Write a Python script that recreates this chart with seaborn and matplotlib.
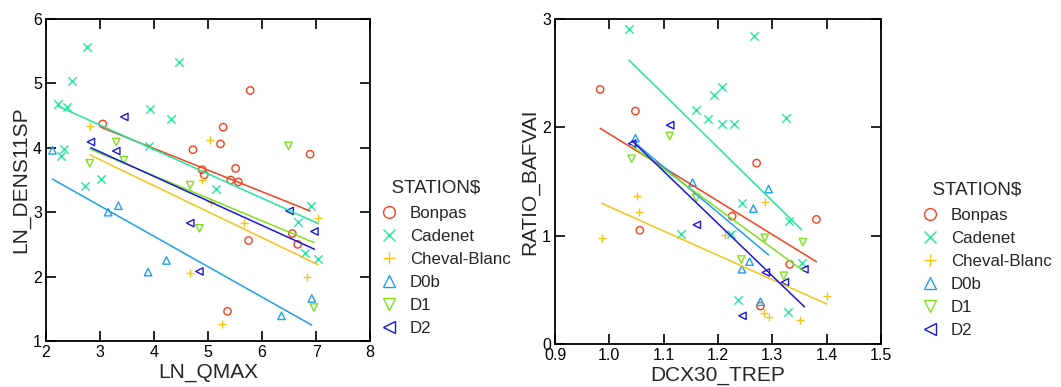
import numpy as np
import pandas as pd
import matplotlib
matplotlib.use("Agg")
import matplotlib.pyplot as plt
from matplotlib.lines import Line2D
import seaborn as sns

stations = ["Bonpas", "Cadenet", "Cheval-Blanc", "D0b", "D1", "D2"]
colors = ["#F5401E", "#22E6A0", "#F5C418", "#1EA0F0", "#80E020", "#1818E0"]
markers = ["o", "x", "+", "^", "v", "<"]

# Left panel: LN_QMAX vs LN_DENS11SP
bonpas_qmax = [3.05, 5.78, 5.28, 5.23, 4.72, 6.89, 5.51, 4.89, 4.93, 5.42, 5.56, 6.56, 6.66, 5.75, 5.36]
bonpas_dens = [4.37, 4.89, 4.32, 4.06, 3.97, 3.90, 3.68, 3.66, 3.58, 3.50, 3.47, 2.67, 2.50, 2.56, 1.46]
cadenet_qmax = [2.75, 4.46, 2.48, 2.23, 2.38, 3.93, 4.31, 3.91, 2.33, 2.27, 3.02, 2.72, 5.14, 6.91, 6.67, 6.79, 7.04]
cadenet_dens = [5.57, 5.33, 5.03, 4.68, 4.63, 4.61, 4.45, 4.03, 3.98, 3.87, 3.52, 3.41, 3.36, 3.10, 2.84, 2.36, 2.28]
cheval_qmax = [2.81, 5.04, 4.88, 5.05, 7.04, 5.67, 4.67, 6.83, 5.25]
cheval_dens = [4.34, 4.12, 3.50, 3.16, 2.91, 2.83, 2.05, 1.99, 1.26]
d0b_qmax = [2.12, 3.34, 3.15, 4.23, 3.89, 6.92, 6.36]
d0b_dens = [3.96, 3.10, 3.00, 2.25, 2.07, 1.66, 1.39]
d1_qmax = [3.30, 6.49, 2.81, 3.44, 4.67, 4.84, 6.96]
d1_dens = [4.09, 4.03, 3.76, 3.81, 3.42, 2.75, 1.52]
d2_qmax = [3.45, 2.83, 3.30, 6.51, 6.97, 4.67, 4.84]
d2_dens = [4.48, 4.09, 3.95, 3.02, 2.70, 2.83, 2.08]

# Right panel: DCX30_TREP vs RATIO_BAFVAI
bonpas_trep = [0.983, 1.048, 1.271, 1.381, 1.226, 1.056, 1.332, 1.278]
bonpas_ratio = [2.35, 2.15, 1.67, 1.15, 1.18, 1.05, 0.735, 0.35]
cadenet_trep = [1.036, 1.266, 1.208, 1.193, 1.160, 1.325, 1.182, 1.208, 1.230, 1.244, 1.131, 1.224, 1.330, 1.354, 1.236, 1.329]
cadenet_ratio = [2.91, 2.84, 2.37, 2.30, 2.16, 2.09, 2.08, 2.03, 2.03, 1.30, 1.02, 1.02, 1.14, 0.75, 0.41, 0.30]
cheval_trep = [1.051, 1.055, 0.986, 1.213, 1.287, 1.400, 1.285, 1.294, 1.351]
cheval_ratio = [1.37, 1.22, 0.98, 1.01, 1.31, 0.44, 0.29, 0.25, 0.22]
d0b_trep = [1.048, 1.153, 1.293, 1.265, 1.258, 1.244, 1.278]
d0b_ratio = [1.90, 1.49, 1.43, 1.25, 0.76, 0.69, 0.39]
d1_trep = [1.111, 1.041, 1.160, 1.286, 1.356, 1.243, 1.321]
d1_ratio = [1.92, 1.71, 1.35, 0.98, 0.94, 0.78, 0.63]
d2_trep = [1.112, 1.042, 1.161, 1.288, 1.359, 1.323, 1.245]
d2_ratio = [2.02, 1.85, 1.10, 0.66, 0.69, 0.57, 0.26]

left_x = [bonpas_qmax, cadenet_qmax, cheval_qmax, d0b_qmax, d1_qmax, d2_qmax]
left_y = [bonpas_dens, cadenet_dens, cheval_dens, d0b_dens, d1_dens, d2_dens]
right_x = [bonpas_trep, cadenet_trep, cheval_trep, d0b_trep, d1_trep, d2_trep]
right_y = [bonpas_ratio, cadenet_ratio, cheval_ratio, d0b_ratio, d1_ratio, d2_ratio]


def make_df(xs, ys, xname, yname):
    rows = []
    for st, xv, yv in zip(stations, xs, ys):
        for a, b in zip(xv, yv):
            rows.append({"STATION$": st, xname: a, yname: b})
    return pd.DataFrame(rows)


df_left = make_df(left_x, left_y, "LN_QMAX", "LN_DENS11SP")
df_right = make_df(right_x, right_y, "DCX30_TREP", "RATIO_BAFVAI")

sns.set_theme(style="ticks")
plt.rcParams["font.family"] = ["Liberation Sans", "DejaVu Sans"]

fig = plt.figure(figsize=(10.61, 3.87), dpi=100)
ax1 = fig.add_axes([0.0434, 0.1189, 0.3054, 0.832])
ax2 = fig.add_axes([0.5231, 0.1111, 0.3073, 0.8398])


def draw(ax, df, xname, yname):
    for st, c, m in zip(stations, colors, markers):
        sub = df[df["STATION$"] == st]
        if m in ("x", "+"):
            sns.scatterplot(data=sub, x=xname, y=yname, ax=ax, marker=m,
                            color=c, s=36, linewidth=1.0, legend=False)
        else:
            sns.scatterplot(data=sub, x=xname, y=yname, ax=ax, marker=m,
                            facecolor="none", edgecolor=c, s=28, linewidth=1.0,
                            legend=False)
        sns.regplot(data=sub, x=xname, y=yname, ax=ax, scatter=False, ci=None,
                    color=c, line_kws=dict(lw=1.1))
    ax.set_xlabel(xname, fontsize=15, labelpad=2)
    ax.set_ylabel(yname, fontsize=15, labelpad=2)
    ax.tick_params(direction="in", length=7, width=1.2, top=True, right=True,
                   labelsize=11.5, pad=3, colors="black")
    for sp in ax.spines.values():
        sp.set_linewidth(1.3)
        sp.set_color("black")


draw(ax1, df_left, "LN_QMAX", "LN_DENS11SP")
ax1.set_xlim(2, 8)
ax1.set_ylim(1, 6)
ax1.set_xticks([2, 3, 4, 5, 6, 7, 8])
ax1.set_yticks([1, 2, 3, 4, 5, 6])

draw(ax2, df_right, "DCX30_TREP", "RATIO_BAFVAI")
ax2.set_xlim(0.9, 1.5)
ax2.set_ylim(0, 3)
ax2.set_xticks([0.9, 1.0, 1.1, 1.2, 1.3, 1.4, 1.5])
ax2.set_xticklabels([f"{v:.1f}" for v in [0.9, 1.0, 1.1, 1.2, 1.3, 1.4, 1.5]])
ax2.set_yticks([0, 1, 2, 3])

handles = []
for st, c, m in zip(stations, colors, markers):
    handles.append(Line2D([], [], linestyle="none", marker=m, markersize=8.5,
                          markerfacecolor="none", markeredgecolor=c,
                          markeredgewidth=1.0, color=c))

for xpos, ytop in ((372.5, 171), (913.5, 173)):
    leg = fig.legend(handles, stations, title="  STATION$", loc="upper left",
                     bbox_to_anchor=(xpos / 1061, 1 - ytop / 387), frameon=False,
                     fontsize=12.2, title_fontsize=13.5, handlelength=0.9,
                     handletextpad=0.8, labelspacing=0.47, borderpad=0.0,
                     alignment="left")
    leg._legend_box.sep = 6.8

fig.savefig("out.png", dpi=100)
